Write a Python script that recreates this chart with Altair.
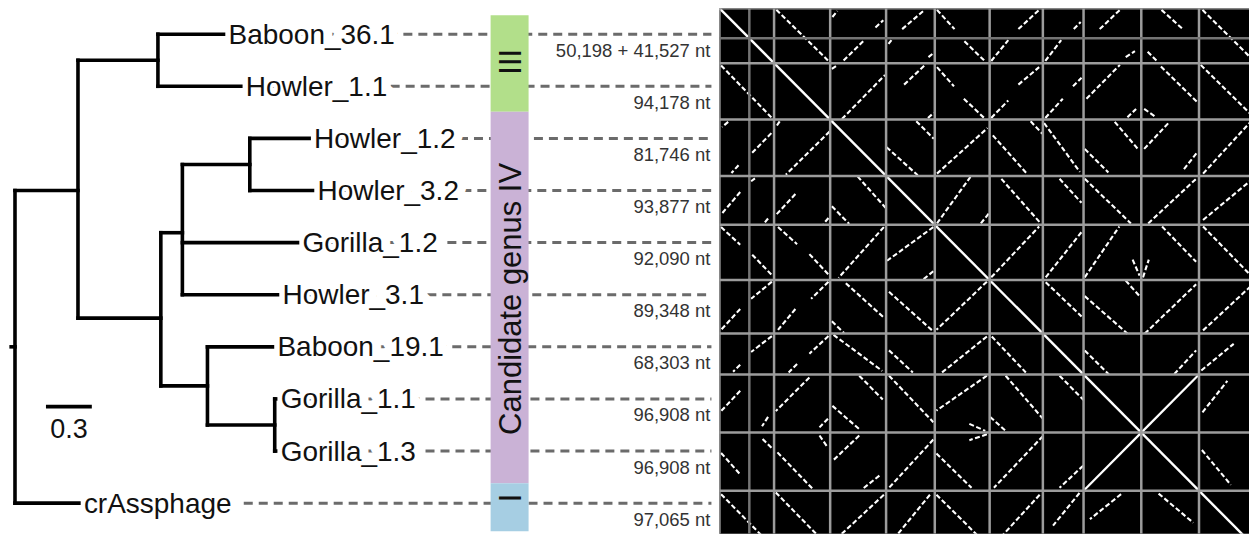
import altair as alt
import pandas as pd

FONT = "Liberation Sans"

# ---------------- tree (branch lengths in substitutions/site, rows = tip order) ----------------
node_names = ["root", "A", "B", "Baboon_36.1", "Howler_1.1", "C", "D", "E", "Howler_1.2", "Howler_3.2",
              "Gorilla_1.2", "Howler_3.1", "G", "Baboon_19.1", "H", "Gorilla_1.1", "Gorilla_1.3", "crAssphage"]
node_parent = ["", "root", "A", "B", "B", "A", "C", "D", "E", "E",
               "D", "D", "C", "G", "G", "H", "H", "root"]
node_depth = [0.0, 0.412, 0.935, 1.364, 1.477, 0.954, 1.095, 1.536, 1.924, 1.946,
              1.848, 1.717, 1.259, 1.684, 1.699, 1.705, 1.705, 0.418]
node_row = [6.0, 3.0, 0.5, 0, 1, 5.45, 3.81, 2.5, 2, 3,
            4, 5, 6.75, 6, 7.5, 7, 8, 9]
root_stub = 0.025

tip_names = ["Baboon_36.1", "Howler_1.1", "Howler_1.2", "Howler_3.2", "Gorilla_1.2",
             "Howler_3.1", "Baboon_19.1", "Gorilla_1.1", "Gorilla_1.3", "crAssphage"]
tip_lengths = ["50,198 + 41,527 nt", "94,178 nt", "81,746 nt", "93,877 nt", "92,090 nt",
               "89,348 nt", "68,303 nt", "96,908 nt", "96,908 nt", "97,065 nt"]

genus_names = ["III", "Candidate genus IV", "I"]
genus_start = [-0.365, 1.49, 8.62]
genus_end = [1.49, 8.62, 9.54]
genus_label_row = [0.53, 5.08, 8.9]
genus_colors = ["#b2df8a", "#cab2d6", "#a6cee3"]

scale_bar_value = 0.3

# ---------------- dot plot ----------------
dot_contigs = ["Baboon_36.1 (1)", "Baboon_36.1 (2)", "Howler_1.1", "Howler_3.2", "Howler_1.2",
               "Gorilla_1.2", "Howler_3.1", "Baboon_19.1", "Gorilla_1.1", "Gorilla_1.3", "crAssphage"]
dot_sizes_nt = [50198, 41527, 94178, 93877, 81746, 92090, 89348, 68303, 96908, 96908, 97065]
contig_genome = [0, 0, 1, 2, 3, 4, 5, 6, 7, 8, 9]

# similarity segments (upper triangle), block-relative: (row genome, col genome, fx1, fy1, fx2, fy2)
seg_blocks = [
    (0, 1, .04, .03, .96, .95),
    (0, 2, .24, .95, .62, .57), (0, 2, .04, .16, .13, .05), (0, 2, .81, .35, .95, .22),
    (0, 3, .33, .38, .79, .03), (0, 3, .05, .65, .11, .58), (0, 3, .87, .89, .98, .81),
    (0, 4, .04, .03, .36, .38), (0, 4, .54, .60, .90, .95),
    (0, 5, .54, .38, .93, .03), (0, 5, .03, .96, .35, .58),
    (0, 6, .76, .38, .93, .25), (0, 6, .06, .96, .45, .58),
    (0, 7, .28, .38, .63, .03), (0, 7, .73, .89, .89, .78),
    (0, 8, .35, .03, .73, .39), (0, 8, .11, .79, .27, .96),
    (0, 9, .06, .03, .95, .96),
    (1, 2, .21, .99, .98, .21), (1, 2, .03, .10, .12, .04),
    (1, 3, .37, .38, .79, .04), (1, 3, .86, .97, .98, .88),
    (1, 4, .04, .07, .35, .41), (1, 4, .53, .63, .90, .97),
    (1, 5, .03, .97, .35, .66), (1, 5, .54, .38, .93, .07),
    (1, 6, .06, .97, .49, .63), (1, 6, .74, .41, .95, .26),
    (1, 7, .05, .63, .63, .03), (1, 7, .76, .96, .91, .81),
    (1, 8, .05, .81, .26, .96), (1, 8, .34, .06, .97, .69),
    (1, 9, .03, .03, .95, .96),
    (2, 3, .01, .49, .65, .99), (2, 3, .62, .03, .98, .34),
    (2, 4, .04, .96, .96, .15),
    (2, 5, .06, .28, .70, .96), (2, 5, .77, .03, .99, .25),
    (2, 6, .03, .06, .91, .93),
    (2, 7, .54, .04, .94, .52), (2, 7, .02, .52, .43, .94),
    (2, 8, .05, .52, .49, .04), (2, 8, .74, .88, .97, .58),
    (2, 9, .07, .96, .90, .03),
    (3, 4, .04, .97, .65, .02), (3, 4, .84, .97, .99, .76),
    (3, 5, .22, .06, .96, .97),
    (3, 6, .41, .06, .95, .55),
    (3, 7, .02, .06, .82, .97),
    (3, 8, .12, .97, .95, .06),
    (3, 9, .07, .90, .93, .06),
    (4, 5, .03, .95, .93, .03),
    (4, 6, .07, .95, .95, .13),
    (4, 7, .02, .95, .62, .03), (4, 7, .85, .63, .97, .92),
    (4, 8, .36, .03, .95, .67), (4, 8, .03, .95, .13, .63),
    (4, 9, .07, .03, .90, .92),
    (5, 6, .07, .04, .95, .68),
    (5, 7, .02, .30, .76, 1.0), (5, 7, .73, .01, .97, .30),
    (5, 8, .06, 1.0, .95, .08),
    (5, 9, .07, .94, .93, .08),
    (6, 7, .02, .41, .44, 1.0),
    (6, 8, .57, .99, .95, .41),
    (6, 9, .04, .90, .60, .25),
    (7, 9, .06, .65, .49, .11),
    (8, 9, .05, .30, .55, .90),
]
solid_blocks = [(7, 8, 0.0, 1.0, 1.0, 0.0)]

# ---------------- build tables ----------------
idx = {n: i for i, n in enumerate(node_names)}
tree_rows = []
for i, n in enumerate(node_names):
    p = node_parent[i]
    if p:
        j = idx[p]
        tree_rows.append(dict(x=node_depth[j], x2=node_depth[i], y=node_row[i], y2=node_row[i]))
    kids = [k for k in range(len(node_names)) if node_parent[k] == n]
    if kids:
        rows = [node_row[k] for k in kids]
        tree_rows.append(dict(x=node_depth[i], x2=node_depth[i], y=min(rows), y2=max(rows)))
tree_rows.append(dict(x=-root_stub, x2=0.0, y=node_row[0], y2=node_row[0]))
tree_df = pd.DataFrame(tree_rows)

tips_df = pd.DataFrame({
    "name": tip_names,
    "row": list(range(len(tip_names))),
    "depth": [node_depth[idx[n]] for n in tip_names],
    "length": tip_lengths,
})

genus_df = pd.DataFrame({"genus": genus_names, "start": genus_start, "end": genus_end,
                         "label_row": genus_label_row})

SB_X, SB_ROW = 0.2026, 7.147
sb_df = pd.DataFrame({"x": [SB_X], "x2": [SB_X + scale_bar_value], "y": [SB_ROW],
                      "xm": [SB_X + scale_bar_value / 2], "label": [str(scale_bar_value)]})

kb = [s / 1000 for s in dot_sizes_nt]
bounds = [0.0]
for v in kb:
    bounds.append(bounds[-1] + v)
g_start, g_len = [], []
for g in range(10):
    members = [i for i, cg in enumerate(contig_genome) if cg == g]
    g_start.append(bounds[members[0]])
    g_len.append(sum(kb[i] for i in members))


def to_kb(blocks):
    out = []
    for r, c, fx1, fy1, fx2, fy2 in blocks:
        out.append(dict(x=g_start[c] + fx1 * g_len[c], y=g_start[r] + fy1 * g_len[r],
                        x2=g_start[c] + fx2 * g_len[c], y2=g_start[r] + fy2 * g_len[r]))
    return pd.DataFrame(out)


seg_df = to_kb(seg_blocks)
solid_df = to_kb(solid_blocks)
diag_df = pd.DataFrame({"x": [0.0], "x2": [bounds[-1]]})
bound_df = pd.DataFrame({"b": bounds, "split": [i == 1 for i in range(len(bounds))]})

# ---------------- left panel ----------------
LW, H = 711, 526
xs = alt.Scale(domain=[-0.0392, 4.608], nice=False, zero=False)
ys = alt.Scale(domain=[-0.4986, 9.588], reverse=True, nice=False, zero=False)

base_tips = alt.Chart(tips_df)
dashes = base_tips.mark_rule(color="#6b6b6b", strokeWidth=3, strokeDash=[9, 6]).encode(
    x=alt.X("depth:Q", scale=xs, axis=None), x2=alt.value(703),
    y=alt.Y("row:Q", scale=ys, axis=None))
halo = base_tips.mark_text(align="left", baseline="middle", dx=5, dy=1.5, fontSize=28, font=FONT,
                           color="white", stroke="white", strokeWidth=18, strokeJoin="round").encode(
    x=alt.X("depth:Q", scale=xs, axis=None), y=alt.Y("row:Q", scale=ys, axis=None), text="name:N")
tree = alt.Chart(tree_df).mark_rule(color="black", strokeWidth=3.6, strokeCap="square").encode(
    x=alt.X("x:Q", scale=xs, axis=None), x2="x2:Q",
    y=alt.Y("y:Q", scale=ys, axis=None), y2="y2:Q")
tip_text = base_tips.mark_text(align="left", baseline="middle", dx=5, dy=1.5, fontSize=28, font=FONT,
                               color="#111111").encode(
    x=alt.X("depth:Q", scale=xs, axis=None), y=alt.Y("row:Q", scale=ys, axis=None), text="name:N")
nt_text = base_tips.mark_text(align="right", baseline="alphabetic", dy=22.5, fontSize=18.5, font=FONT,
                              color="#333333").encode(
    x=alt.value(702), y=alt.Y("row:Q", scale=ys, axis=None), text="length:N")
bars = alt.Chart(genus_df).mark_rect().encode(
    x=alt.value(482), x2=alt.value(520),
    y=alt.Y("start:Q", scale=ys, axis=None), y2="end:Q",
    color=alt.Color("genus:N", scale=alt.Scale(domain=genus_names, range=genus_colors), legend=None))
bar_text = alt.Chart(genus_df).mark_text(angle=270, align="center", baseline="middle", fontSize=31,
                                         font=FONT, color="#111111").encode(
    x=alt.value(503), y=alt.Y("label_row:Q", scale=ys, axis=None), text="genus:N")
sbar = alt.Chart(sb_df).mark_rule(color="black", strokeWidth=3.6).encode(
    x=alt.X("x:Q", scale=xs, axis=None), x2="x2:Q", y=alt.Y("y:Q", scale=ys, axis=None))
sbar_text = alt.Chart(sb_df).mark_text(align="center", baseline="alphabetic", dy=31.5, fontSize=27,
                                       font=FONT, color="#111111").encode(
    x=alt.X("xm:Q", scale=xs, axis=None), y=alt.Y("y:Q", scale=ys, axis=None), text="label:N")

left = alt.layer(dashes, halo, tree, tip_text, nt_text, bars, bar_text, sbar, sbar_text).properties(
    width=LW, height=H)

# ---------------- right panel (dot plot) ----------------
RW = 530
xs2 = alt.Scale(domain=[0, 889], nice=False, zero=False)
ys2 = alt.Scale(domain=[0, 877], reverse=True, nice=False, zero=False)

segs = alt.Chart(seg_df).mark_rule(color="white", strokeWidth=2.1, strokeDash=[5, 2.5], clip=True).encode(
    x=alt.X("x:Q", scale=xs2, axis=None), x2="x2:Q", y=alt.Y("y:Q", scale=ys2, axis=None), y2="y2:Q")
segs_m = alt.Chart(seg_df).mark_rule(color="white", strokeWidth=2.1, strokeDash=[5, 2.5], clip=True).encode(
    x=alt.X("y:Q", scale=xs2, axis=None), x2="y2:Q", y=alt.Y("x:Q", scale=ys2, axis=None), y2="x2:Q")
solid = alt.Chart(solid_df).mark_rule(color="white", strokeWidth=2.2, clip=True).encode(
    x=alt.X("x:Q", scale=xs2, axis=None), x2="x2:Q", y=alt.Y("y:Q", scale=ys2, axis=None), y2="y2:Q")
solid_m = alt.Chart(solid_df).mark_rule(color="white", strokeWidth=2.2, clip=True).encode(
    x=alt.X("y:Q", scale=xs2, axis=None), x2="y2:Q", y=alt.Y("x:Q", scale=ys2, axis=None), y2="x2:Q")
diag = alt.Chart(diag_df).mark_rule(color="white", strokeWidth=2.4, clip=True).encode(
    x=alt.X("x:Q", scale=xs2, axis=None), x2="x2:Q", y=alt.Y("x:Q", scale=ys2, axis=None), y2="x2:Q")
vgrid = alt.Chart(bound_df).mark_rule(strokeWidth=2.5, clip=True).encode(
    x=alt.X("b:Q", scale=xs2, axis=None),
    color=alt.condition("datum.split", alt.value("#747474"), alt.value("#9c9c9c")))
hgrid = alt.Chart(bound_df).mark_rule(strokeWidth=2.5, clip=True).encode(
    y=alt.Y("b:Q", scale=ys2, axis=None),
    color=alt.condition("datum.split", alt.value("#747474"), alt.value("#9c9c9c")))

right = alt.layer(segs, segs_m, solid, solid_m, diag, vgrid, hgrid).properties(
    width=RW, height=H, view=alt.ViewBackground(fill="black", strokeWidth=0))

chart = alt.hconcat(left, right, spacing=0).properties(padding=0, background="white").configure_view(
    strokeWidth=0)

chart.save("out.html", embed_options={"renderer": "svg", "actions": False})
